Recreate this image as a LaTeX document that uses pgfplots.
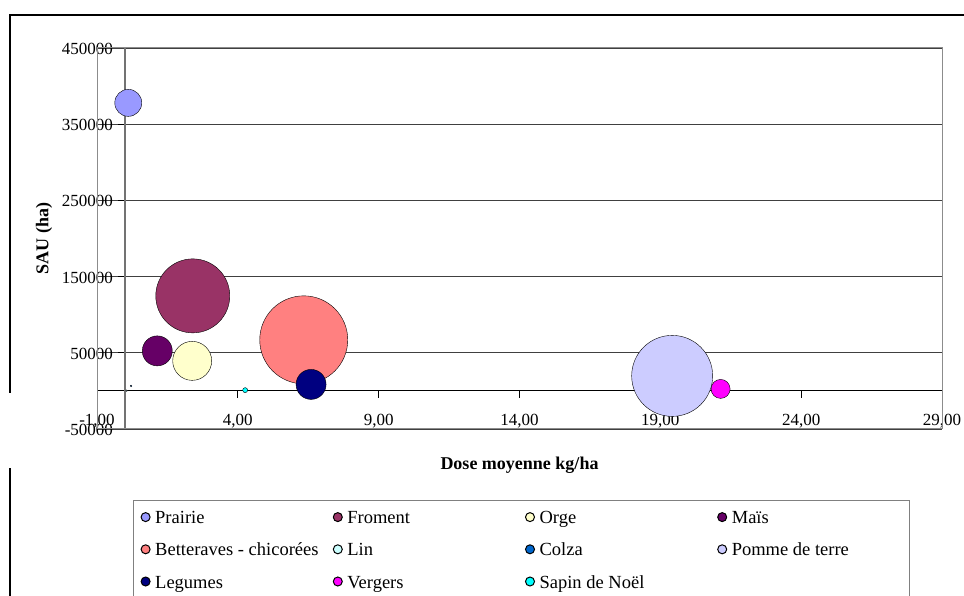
\documentclass[border=0pt]{standalone}
\usepackage{fontspec}
\setmainfont{Liberation Serif}
\usepackage{pgfplots}
\pgfplotsset{compat=1.18}

% series colours
\definecolor{cPrairie}{HTML}{9999FF}
\definecolor{cFroment}{HTML}{993366}
\definecolor{cOrge}{HTML}{FFFFCC}
\definecolor{cMais}{HTML}{660066}
\definecolor{cBett}{HTML}{FF8080}
\definecolor{cLin}{HTML}{CCFFFF}
\definecolor{cColza}{HTML}{0066CC}
\definecolor{cPomme}{HTML}{CCCCFF}
\definecolor{cLegumes}{HTML}{000080}
\definecolor{cVergers}{HTML}{FF00FF}
\definecolor{cSapin}{HTML}{00FFFF}

\newcommand{\entry}[1]{\makebox[170bp][l]{\strut #1}}

\begin{document}
\begin{tikzpicture}[x=1bp,y=1bp]
\useasboundingbox (0,0) rectangle (964,596);
% chart area frame
\draw[line width=2bp] (10,203) -- (10,581) -- (975,581);
\draw[line width=2bp] (10,-5) -- (10,128);
\begin{axis}[
  at={(97bp,167bp)}, anchor=south west,
  scale only axis, width=845bp, height=381bp,
  xmin=-1, xmax=29, ymin=-50000, ymax=450000,
  axis lines=middle,
  axis line style={-},
  x axis line style={black, line width=1bp},
  y axis line style={black!55, line width=1.6bp},
  tick align=outside,
  major tick length=7bp,
  tick style={black, line width=1bp},
  scaled y ticks=false,
  xtick={-1,4,...,29},
  xticklabels={{-1,00},{4,00},{9,00},{14,00},{19,00},{24,00},{29,00}},
  ytick={-50000,50000,...,450000},
  yticklabels={-50000,50000,150000,250000,350000,450000},
  tick label style={font=\fontsize{17bp}{20bp}\selectfont, inner sep=0bp},
  yticklabel style={anchor=east, xshift=-5bp, yshift=-1bp},
  xticklabel style={anchor=north, yshift=-16bp},
  ymajorgrids,
  major grid style={black!75, line width=0.8bp},
  xlabel={Dose moyenne kg/ha},
  ylabel={SAU (ha)},
  label style={font=\bfseries\fontsize{18bp}{21bp}\selectfont},
  xlabel style={at={(axis description cs:0.5,-0.0945)}, anchor=center},
  ylabel style={at={(axis description cs:-0.0627,0.5)}, anchor=center, rotate=90},
  clip=false,
  every axis plot/.append style={only marks, mark=*, draw=black, mark options={draw=black, line width=1.2bp}},
  legend columns=4,
  legend cell align=left,
  legend image post style={mark size=4.5bp, mark options={line width=1bp}},
  legend style={
    at={(axis description cs:0.0426,-0.1864)}, anchor=north west,
    draw=black!50, line width=1bp,
    font=\fontsize{18.5bp}{21bp}\selectfont,
    inner xsep=7.6bp, inner ysep=8.5bp,
    nodes={inner sep=0bp},
    row sep=16bp,
    /tikz/every odd column/.append style={column sep=5.1bp},
    /tikz/every even column/.append style={column sep=8.1bp},
  },
]
\draw[black!45, line width=1bp] (rel axis cs:0,0) rectangle (rel axis cs:1,1);

\addplot[fill=cPrairie, mark options={fill=cPrairie}, mark size=13.5bp] coordinates {(0.11,378000)};
\addlegendentry{\entry{Prairie}}
\addplot[fill=cFroment, mark options={fill=cFroment}, mark size=37bp] coordinates {(2.40,124700)};
\addlegendentry{\entry{Froment}}
\addplot[fill=cOrge, mark options={fill=cOrge}, mark size=19.5bp] coordinates {(2.38,39400)};
\addlegendentry{\entry{Orge}}
\addplot[fill=cMais, mark options={fill=cMais}, mark size=15bp] coordinates {(1.14,52500)};
\addlegendentry{\entry{Maïs}}
\addplot[fill=cBett, mark options={fill=cBett}, mark size=44bp] coordinates {(6.34,67000)};
\addlegendentry{\entry{Betteraves - chicorées}}
\addplot[fill=cLin, mark options={fill=cLin}, mark size=0.8bp] coordinates {(0.05,300)};
\addlegendentry{\entry{Lin}}
\addplot[fill=cColza, mark options={fill=cColza}, mark size=0.8bp] coordinates {(0.21,6500)};
\addlegendentry{\entry{Colza}}
\addplot[fill=cPomme, mark options={fill=cPomme}, mark size=40.5bp] coordinates {(19.42,19700)};
\addlegendentry{\entry{Pomme de terre}}
\addplot[fill=cLegumes, mark options={fill=cLegumes}, mark size=15bp] coordinates {(6.60,8500)};
\addlegendentry{\entry{Legumes}}
\addplot[fill=cVergers, mark options={fill=cVergers}, mark size=9.5bp] coordinates {(21.14,2600)};
\addlegendentry{\entry{Vergers}}
\addplot[fill=cSapin, mark options={fill=cSapin}, mark size=2.5bp] coordinates {(4.26,1000)};
\addlegendentry{\entry{Sapin de Noël}}
\end{axis}
\end{tikzpicture}
\end{document}
